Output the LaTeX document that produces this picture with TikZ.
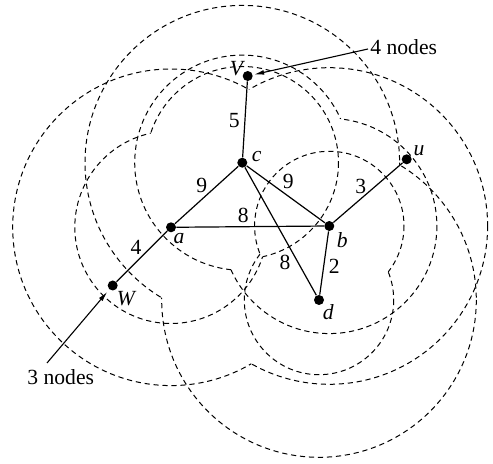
\documentclass[tikz,border=0pt]{standalone}
\usepackage{fontspec}
\setmainfont{Liberation Serif}
\usetikzlibrary{arrows.meta}
\tikzset{
  dot/.style={circle,fill=black,inner sep=0pt,minimum size=5pt},
  edge/.style={line width=0.6pt},
  ring/.style={dash pattern=on 2.6pt off 1.9pt, line width=0.5pt},
  lbl/.style={inner sep=0pt,font=\fontsize{10.8}{12}\selectfont},
  ptr/.style={line width=0.55pt,-{Latex[length=5pt,width=2.4pt]}},
}
\newcommand\ringpair[3]{%
  \begin{scope}[even odd rule]
    \clip (-30,-30) rectangle (530,500) (#2) circle[radius=#3];
    \draw[ring] (#1) circle[radius=#3];
  \end{scope}
  \begin{scope}[even odd rule]
    \clip (-30,-30) rectangle (530,500) (#1) circle[radius=#3];
    \draw[ring] (#2) circle[radius=#3];
  \end{scope}}
\begin{document}
\begin{tikzpicture}[x=0.5pt,y=-0.5pt]
  \useasboundingbox (0,0) rectangle (493,464);
  % nodes
  \node[dot] (V) at (247.7,76) {};
  \node[dot] (c) at (242.3,162.7) {};
  \node[dot] (u) at (406.7,159.3) {};
  \node[dot] (a) at (171,227.3) {};
  \node[dot] (b) at (329.3,226) {};
  \node[dot] (d) at (319,300) {};
  \node[dot] (W) at (112.7,285.5) {};
  % link coverage regions
  \ringpair{a}{b}{158.3}
  \ringpair{c}{d}{157.3}
  \ringpair{a}{c}{96.2}
  \ringpair{c}{b}{107.6}
  \ringpair{b}{d}{74.7}
  % edges
  \draw[edge] (V) -- (c);
  \draw[edge] (c) -- (a);
  \draw[edge] (c) -- (b);
  \draw[edge] (c) -- (d);
  \draw[edge] (a) -- (b);
  \draw[edge] (a) -- (W);
  \draw[edge] (b) -- (u);
  \draw[edge] (b) -- (d);
  % node labels
  \node[lbl] (lV) at (237.5,68.3) {\textit{V}};
  \node[lbl] (lc) at (256.7,156.5) {\textit{c}};
  \node[lbl] (lu) at (419,150.7) {\textit{u}};
  \node[lbl] (la) at (179,238.5) {\textit{a}};
  \node[lbl] (lb) at (342.3,240) {\textit{b}};
  \node[lbl] (ld) at (328.3,312) {\textit{d}};
  \node[lbl] (lW) at (126.7,299) {\textit{W}};
  % edge weights
  \node[lbl] (w5) at (234.3,120.7) {5};
  \node[lbl] (w9a) at (201.7,185) {9};
  \node[lbl] (w9b) at (288.3,181.7) {9};
  \node[lbl] (w8a) at (243.3,215) {8};
  \node[lbl] (w8b) at (285,262.3) {8};
  \node[lbl] (w3) at (360.7,186.7) {3};
  \node[lbl] (w4) at (136,247.3) {4};
  \node[lbl] (w2) at (334.3,266.7) {2};
  % annotations
  \node[lbl,anchor=west] (t4) at (370,47) {4 nodes};
  \node[lbl] (t3) at (60.7,377.3) {3 nodes};
  \coordinate (s4) at (368,49);
  \coordinate (s3) at (47,363);
  \draw[ptr,shorten >=0.6pt] (s4) -- (V);
  \draw[ptr,shorten >=1.5pt] (s3) -- (W);
\end{tikzpicture}
\end{document}
